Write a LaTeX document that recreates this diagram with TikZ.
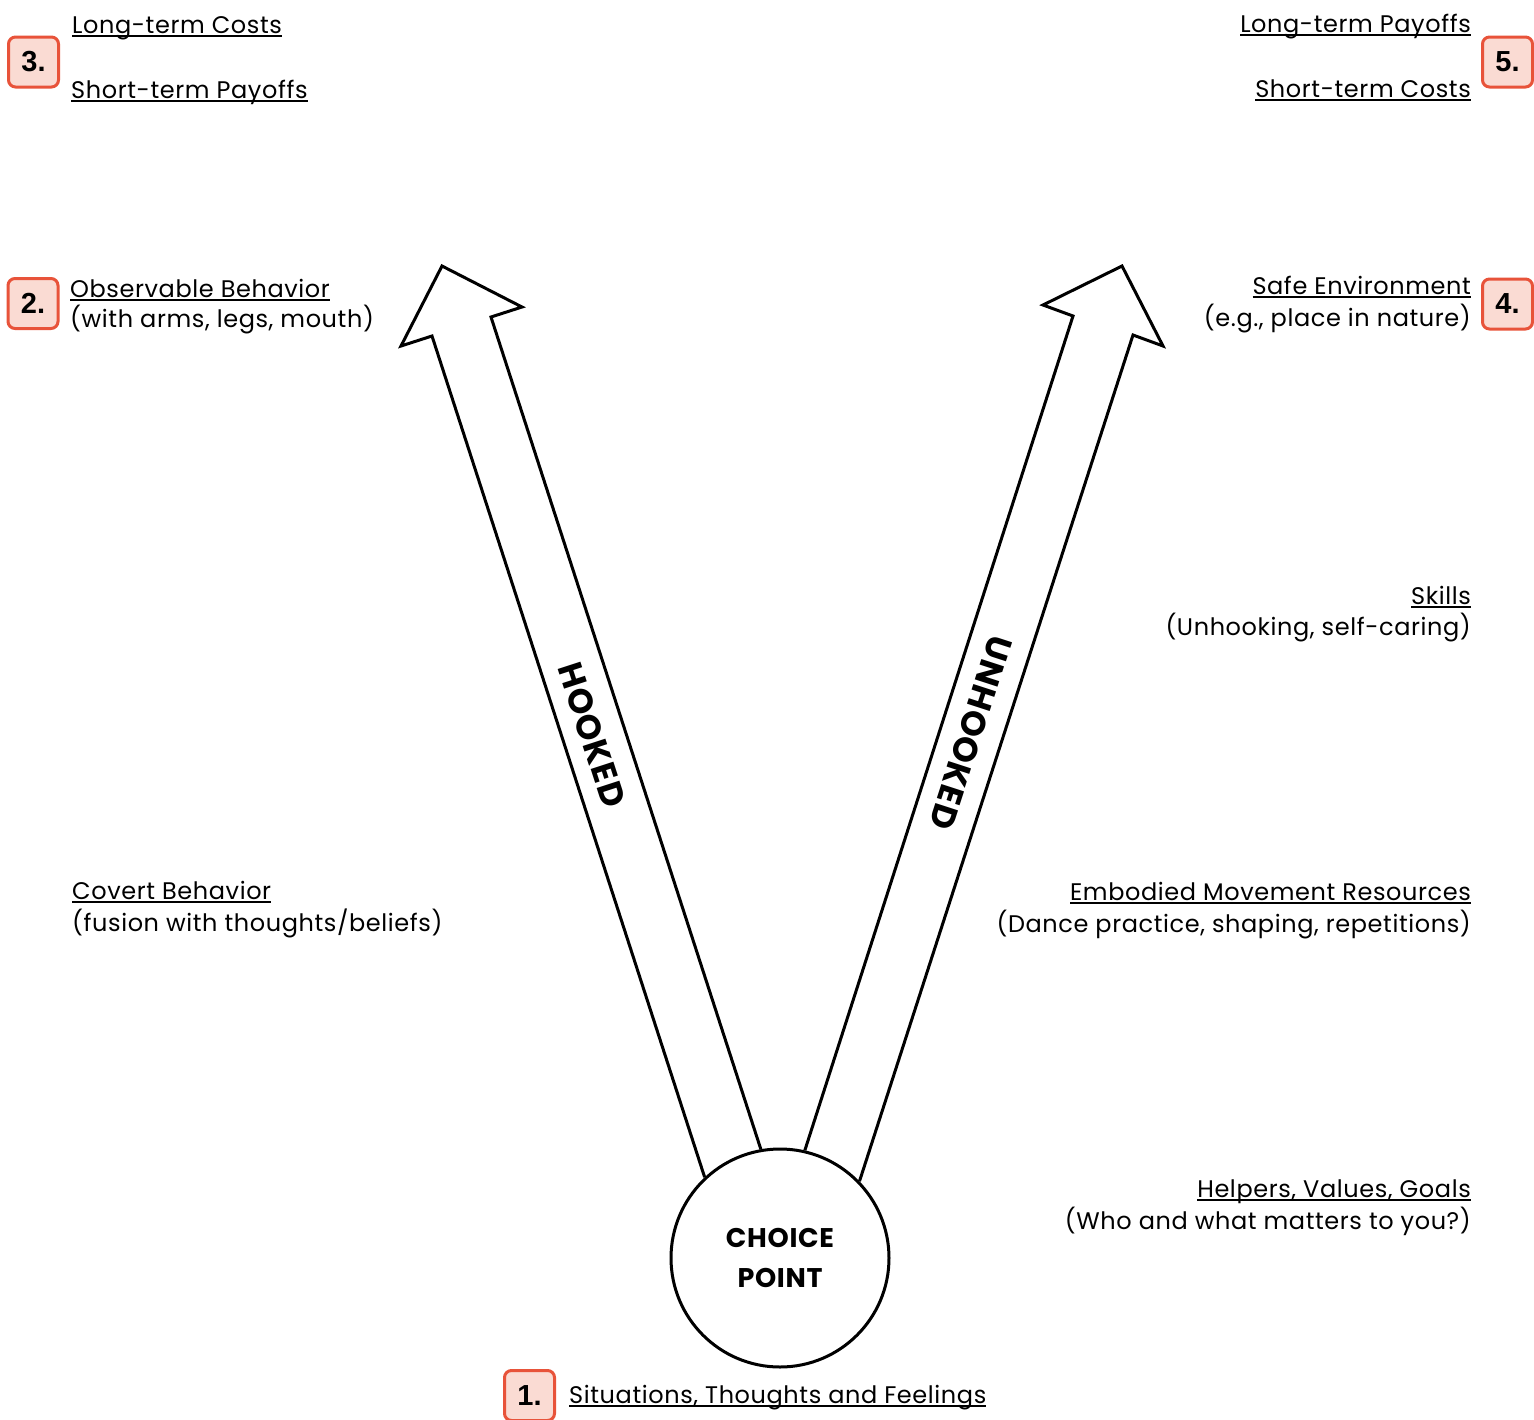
\documentclass[tikz,border=0pt]{standalone}
\usepackage{fontspec}
\setmainfont{Poppins}[LetterSpace=2.5]
\newfontfamily\badgefont{Liberation Sans}
\definecolor{badgeborder}{HTML}{E8533A}
\definecolor{badgefill}{HTML}{FADBD3}
\newsavebox\ulbox
\newcommand\ulx[1]{\sbox\ulbox{#1}\rlap{\rule[-4pt]{\wd\ulbox}{1.6pt}}\usebox\ulbox}
\tikzset{
  lbl/.style={inner sep=0pt, font=\fontsize{24}{28}\selectfont},
  lblw/.style={lbl, anchor=base west},
  lble/.style={lbl, anchor=base east},
  badge/.style={draw=badgeborder, fill=badgefill, line width=3pt, rounded corners=7pt,
    minimum width=50pt, minimum height=50pt, inner sep=0pt,
    font=\badgefont\bfseries\fontsize{29}{30}\selectfont},
  arrowline/.style={draw=black, line width=3pt, line join=miter},
  arrowtext/.style={inner sep=0pt, font=\bfseries\fontsize{34}{38}\selectfont}
}
\begin{document}
\begin{tikzpicture}[x=1pt,y=-1pt]
\clip (0,0) rectangle (1534,1419);
\fill[white] (0,0) rectangle (1534,1419);

% choice point
\node[circle, draw, line width=3pt, minimum size=218pt, inner sep=0pt, align=center,
  font=\bfseries\fontsize{27}{40}\selectfont] (cp) at (780,1258) {CHOICE\\POINT};

% hooked arrow
\coordinate (hbl) at (432,336);
\coordinate (hbo) at (401,346);
\coordinate (ht) at (442,266);
\coordinate (hbro) at (522,307);
\coordinate (hbri) at (491,317);
\draw[arrowline] (cp.133) -- (hbl) -- (hbo) -- (ht) -- (hbro) -- (hbri) -- (cp.100);

% unhooked arrow
\coordinate (ubl) at (1073,316);
\coordinate (ubo) at (1043,305);
\coordinate (ut) at (1122,266);
\coordinate (ubro) at (1163,346);
\coordinate (ubri) at (1133,335);
\draw[arrowline] (cp.77) -- (ubl) -- (ubo) -- (ut) -- (ubro) -- (ubri) -- (cp.44);

\node[arrowtext, rotate=-72] (hk) at (592,735) {HOOKED};
\node[arrowtext, rotate=-108] (uhk) at (971,733) {UNHOOKED};

% left labels
\node[lblw] (l3a) at (72,33) {\ulx{Long-term Costs}};
\node[lblw] (l3b) at (71,98) {\ulx{Short-term Payoffs}};
\node[lblw] (l2a) at (70,297) {\ulx{Observable Behavior}};
\node[lblw] (l2b) at (70,327) {(with arms, legs, mouth)};
\node[lblw] (lca) at (72,899) {\ulx{Covert Behavior}};
\node[lblw] (lcb) at (72,931) {(fusion with thoughts/beliefs)};

% right labels
\node[lble] (r5a) at (1471,32) {\ulx{Long-term Payoffs}};
\node[lble] (r5b) at (1471,97) {\ulx{Short-term Costs}};
\node[lble] (r4a) at (1471,294) {\ulx{Safe Environment}};
\node[lble] (r4b) at (1471,326) {(e.g., place in nature)};
\node[lble] (rsa) at (1471,604) {\ulx{Skills}};
\node[lble] (rsb) at (1471,635) {(Unhooking, self-caring)};
\node[lble] (rea) at (1471,900) {\ulx{Embodied Movement Resources}};
\node[lble] (reb) at (1471,932) {(Dance practice, shaping, repetitions)};
\node[lble] (rha) at (1471,1197) {\ulx{Helpers, Values, Goals}};
\node[lble] (rhb) at (1471,1229) {(Who and what matters to you?)};

% bottom label
\node[lblw] (b1) at (569,1403) {\ulx{Situations, Thoughts and Feelings}};

% badges
\node[badge] (n3) at (33.5,62) {3.};
\node[badge] (n2) at (33,303.5) {2.};
\node[badge] (n5) at (1507.5,62) {5.};
\node[badge] (n4) at (1507.5,304) {4.};
\node[badge] (n1) at (529.5,1395.5) {1.};
\end{tikzpicture}
\end{document}
